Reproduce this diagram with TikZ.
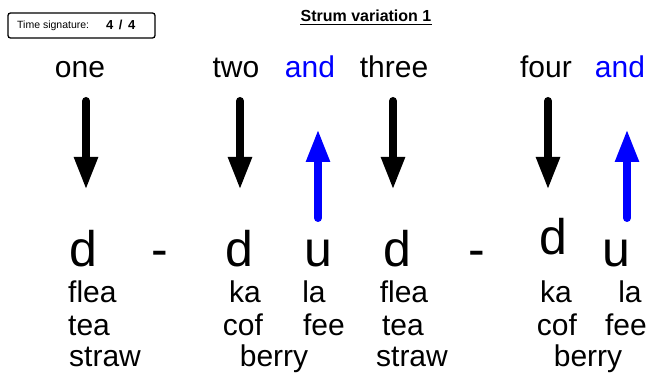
\documentclass[tikz,border=0pt]{standalone}
\usepackage{fontspec}
\setmainfont{Liberation Sans}
\usetikzlibrary{arrows.meta}

\tikzset{
  word/.style={anchor=base,inner sep=0pt,font=\fontsize{30}{32}\selectfont},
  stroke/.style={anchor=base,inner sep=0pt,font=\fontsize{50}{56}\selectfont},
  downstrum/.style={line width=8pt,line cap=round,-{Triangle[length=33pt,width=22pt]}},
  upstrum/.style={downstrum,blue}
}

\begin{document}
\begin{tikzpicture}[x=1pt,y=-1pt]
    \useasboundingbox (0,0) rectangle (651,374);
    % header
    \draw[rounded corners=2.5pt,line width=1.3pt] (8,13) rectangle (155,38);
    \node[anchor=base west,inner sep=0pt,font=\fontsize{10.5}{12}\selectfont] (tslabel) at (17,29) {Time signature:};
    \node[anchor=base west,inner sep=0pt,font=\fontsize{13}{15}\selectfont\bfseries] (tsvalue) at (106,29.5) {4\hspace{5.5pt}/\hspace{5.5pt}4};
    \node[anchor=base,inner sep=0pt,font=\fontsize{16}{18}\selectfont\bfseries] (title) at (366,22) {Strum variation 1};
    \draw[line width=1pt] (title.base west) ++(0,3) -- ([yshift=-3pt]title.base east);
    % counts
    \node[word] (one) at (80,78) {one};
    \node[word] (two) at (236,78) {two};
    \node[word,blue] (and1) at (310,78) {and};
    \node[word] (three) at (394,78) {three};
    \node[word] (four) at (546,78) {four};
    \node[word,blue] (and2) at (620,78) {and};
    % strums
    \foreach \x/\n in {86/1,240/2,393/3,548/4}{
      \coordinate (dtop\n) at (\x,101);
      \coordinate (dtip\n) at (\x,190);
      \draw[downstrum] (dtop\n) -- (dtip\n);
    }
    \foreach \x/\n in {318/1,627/2}{
      \coordinate (ubot\n) at (\x,218);
      \coordinate (utip\n) at (\x,129);
      \draw[upstrum] (ubot\n) -- (utip\n);
    }
    \node[stroke] (s1) at (83,267) {d};
    \node[stroke] (s2) at (160,267) {-};
    \node[stroke] (s3) at (239,267) {d};
    \node[stroke] (s4) at (318,267) {u};
    \node[stroke] (s5) at (397,267) {d};
    \node[stroke] (s6) at (477,267) {-};
    \node[stroke] (s7) at (553,255) {d};
    \node[stroke] (s8) at (616,267) {u};
    % words
    \node[word,anchor=base west] (flea1) at (68,302) {flea};
    \node[word,anchor=base west] (tea1) at (68,335) {tea};
    \node[word,anchor=base west] (straw1) at (69,366) {straw};
    \node[word] (ka1) at (245,302) {ka};
    \node[word] (la1) at (314,302) {la};
    \node[word] (cof1) at (243,335) {cof};
    \node[word] (fee1) at (324,335) {fee};
    \node[word] (berry1) at (274,366) {berry};
    \node[word] (flea2) at (404,302) {flea};
    \node[word] (tea2) at (403,335) {tea};
    \node[word] (straw2) at (412,366) {straw};
    \node[word] (ka2) at (556,302) {ka};
    \node[word] (la2) at (630,302) {la};
    \node[word] (cof2) at (557,335) {cof};
    \node[word] (fee2) at (626,335) {fee};
    \node[word] (berry2) at (588,366) {berry};
\end{tikzpicture}
\end{document}
